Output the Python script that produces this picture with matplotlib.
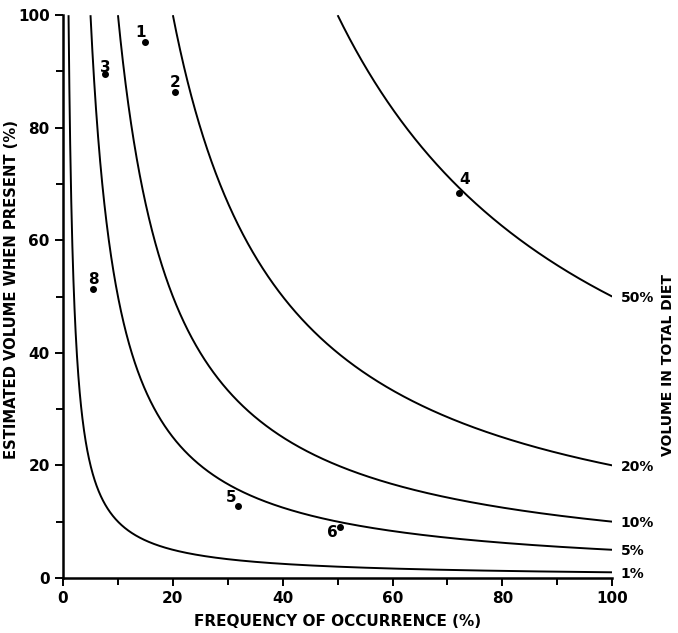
import numpy as np
import matplotlib
matplotlib.use("Agg")
import matplotlib.pyplot as plt

plt.rcParams['font.family'] = ['DejaVu Sans']

# Isolines: volume in total diet (%) = frequency * volume-when-present / 100
diet_levels = [1, 5, 10, 20, 50]
diet_labels = ["1%", "5%", "10%", "20%", "50%"]

# Food items
item_ids = ["1", "2", "3", "4", "5", "6", "8"]
item_freq = [14.9, 20.4, 7.7, 72.1, 31.9, 50.5, 5.5]
item_vol = [95.2, 86.3, 89.5, 68.4, 12.8, 9.1, 51.3]
# label offsets (points) relative to each dot
item_dx = [-3, 0, 0, 4, -5, -6, 0]
item_dy = [7, 7, 5, 10, 6, -4, 7]

xticks = [0, 20, 40, 60, 80, 100]
yticks = [0, 20, 40, 60, 80, 100]

fig = plt.figure(figsize=(6.78, 6.33), dpi=100)
ax = fig.add_axes([0.093, 0.087, 0.81, 0.889])

for lvl, lab in zip(diet_levels, diet_labels):
    x = np.linspace(lvl, 100, 2000)
    y = 100.0 * lvl / x
    ax.plot(x, y, color='black', lw=1.4, solid_capstyle='butt')
    ax.annotate(lab, xy=(100, 100.0 * lvl / 100), xytext=(6, -1),
                textcoords='offset points', ha='left', va='center',
                fontsize=10, fontweight='bold', annotation_clip=False)

ax.scatter(item_freq, item_vol, s=16, color='black', zorder=3)
for lab, xv, yv, dx, dy in zip(item_ids, item_freq, item_vol, item_dx, item_dy):
    ax.annotate(lab, xy=(xv, yv), xytext=(dx, dy), textcoords='offset points',
                ha='center', va='center', fontsize=11, fontweight='bold')

ax.set_xlim(0, 100)
ax.set_ylim(0, 100)
ax.spines['top'].set_visible(False)
ax.spines['right'].set_visible(False)
ax.spines['left'].set_linewidth(1.8)
ax.spines['bottom'].set_linewidth(1.8)
ax.set_xticks(xticks)
ax.set_yticks(yticks)
ax.set_xticks(np.arange(10, 100, 20), minor=True)
ax.set_yticks(np.arange(10, 100, 20), minor=True)
ax.tick_params(which='both', direction='out', width=1.4)
ax.tick_params(which='major', length=6, labelsize=11)
ax.tick_params(which='minor', length=5)
for t in ax.get_xticklabels() + ax.get_yticklabels():
    t.set_fontweight('bold')

ax.set_xlabel('FREQUENCY OF OCCURRENCE (%)', fontsize=11, fontweight='bold', labelpad=6)
ax.set_ylabel('ESTIMATED VOLUME WHEN PRESENT (%)', fontsize=10.6, fontweight='bold')
ax.yaxis.set_label_coords(-0.08, 0.512)
fig.text(0.985, 0.423, 'VOLUME IN TOTAL DIET', rotation=90, ha='center', va='center',
         fontsize=10, fontweight='bold')

fig.savefig('out.png', dpi=100, facecolor='white')
